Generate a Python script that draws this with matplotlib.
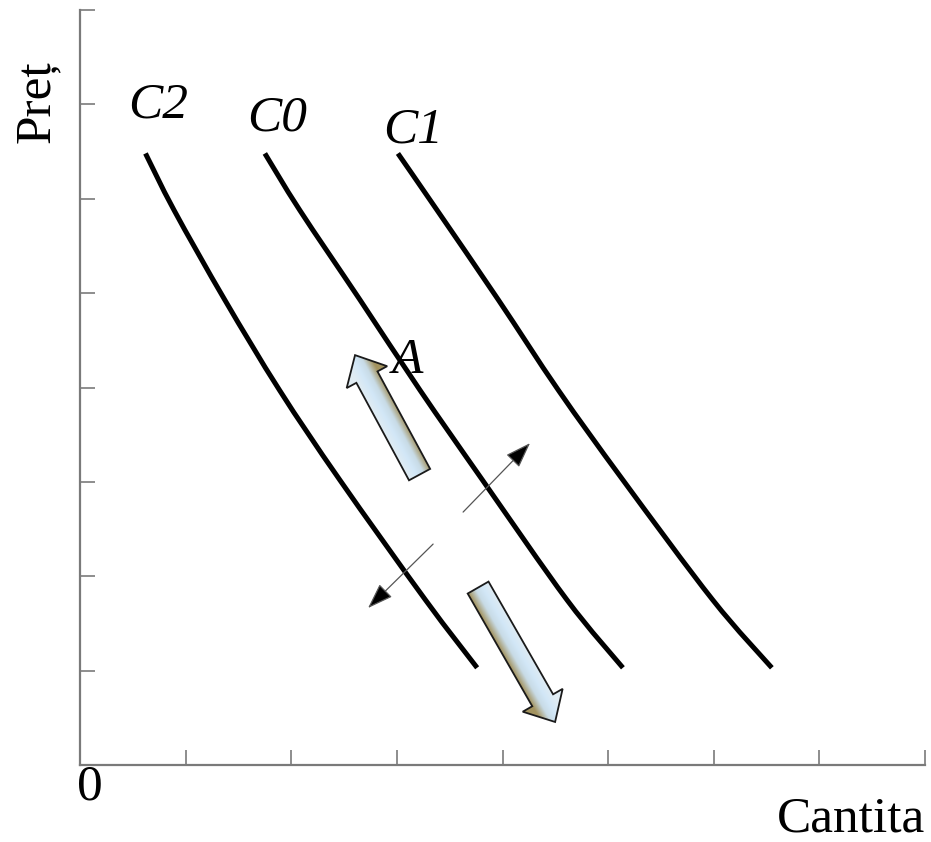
import numpy as np
import matplotlib
matplotlib.use("Agg")
import matplotlib.pyplot as plt
from matplotlib.patches import Polygon, PathPatch
from matplotlib.path import Path
from matplotlib.colors import LinearSegmentedColormap

# ---- data ----
price_levels = [6.48, 5.88, 4.93, 3.97, 3.02, 1.75, 1.03]
qty_C2 = [0.62, 0.89, 1.37, 1.89, 2.46, 3.27, 3.76]
qty_C0 = [1.75, 2.08, 2.65, 3.22, 3.81, 4.61, 5.14]
qty_C1 = [3.01, 3.38, 3.96, 4.53, 5.14, 5.99, 6.55]
curve_names = ["C2", "C0", "C1"]
label_pos = {"C2": (0.455, 6.864), "C0": (1.581, 6.727), "C1": (2.869, 6.600)}
point_A = (2.955, 4.153)
tick_vals = [1, 2, 3, 4, 5, 6, 7, 8]

# movement along the curve (block arrows)
up_arrow = ((3.215, 3.077), (2.604, 4.343))
down_arrow = ((3.769, 1.880), (4.498, 0.456))
# shifts of the curve (thin arrows)
shift_right = ((3.627, 2.680), (4.261, 3.411))
shift_left = ((3.343, 2.341), (2.727, 1.663))

W, H = 931, 842
fig = plt.figure(figsize=(W / 100, H / 100), dpi=100)
ax = fig.add_axes([80 / W, (H - 765) / H, 845 / W, 755 / H])
ax.set_xlim(0, 8)
ax.set_ylim(0, 8)
ax.set_autoscale_on(False)

for s in ["top", "right"]:
    ax.spines[s].set_visible(False)
for s in ["left", "bottom"]:
    ax.spines[s].set_color("#7a7a7a")
    ax.spines[s].set_linewidth(1.6)
ax.set_xticks(tick_vals)
ax.set_yticks(tick_vals)
ax.tick_params(direction="in", length=11, width=1.2, color="#7a7a7a",
               labelbottom=False, labelleft=False)

serif = ["Liberation Serif", "DejaVu Serif"]
fs = 37


def smooth_path(xs, ys):
    """Bezier path through the read points (Catmull-Rom tangents)."""
    P = np.column_stack([xs, ys]).astype(float)
    n = len(P)
    verts = [P[0]]
    codes = [Path.MOVETO]
    for i in range(n - 1):
        p0 = P[i - 1] if i > 0 else P[i]
        p1, p2 = P[i], P[i + 1]
        p3 = P[i + 2] if i + 2 < n else P[i + 1]
        c1 = p1 + (p2 - p0) / 6
        c2 = p2 - (p3 - p1) / 6
        verts += [c1, c2, p2]
        codes += [Path.CURVE4] * 3
    return Path(verts, codes)


for name, q in zip(curve_names, [qty_C2, qty_C0, qty_C1]):
    ax.add_patch(PathPatch(smooth_path(q, price_levels), fc="none", ec="black",
                           lw=3.6, capstyle="butt", zorder=3))
    x, y = label_pos[name]
    ax.text(x, y, name, fontsize=fs, family=serif, style="italic",
            ha="left", va="baseline")

ax.text(point_A[0], point_A[1], "A", fontsize=fs, family=serif, style="italic",
        ha="left", va="baseline", zorder=5)

cmap = LinearSegmentedColormap.from_list(
    "arr", [(0.0, "#e0ecf3"), (0.35, "#d2e7f7"), (0.65, "#c8dbe6"), (1.0, "#a3935f")])


def block_arrow(start, end, shaft_w=24, head_w=46, head_l=25):
    T = ax.transData
    p0 = T.transform(start)
    p1 = T.transform(end)
    d = p1 - p0
    L = np.hypot(*d)
    u = d / L
    n = np.array([u[1], -u[0]])  # right-hand side of travel
    base = p1 - u * head_l
    pts = np.array([p0 + n * shaft_w / 2, base + n * shaft_w / 2, base + n * head_w / 2,
                    p1, base - n * head_w / 2, base - n * shaft_w / 2, p0 - n * shaft_w / 2])
    dpts = T.inverted().transform(pts)
    poly = Polygon(dpts, closed=True, fc="none", ec="#1a1a1a", lw=1.3, zorder=5)
    ax.add_patch(poly)
    x0, y0 = dpts.min(axis=0)
    x1, y1 = dpts.max(axis=0)
    gx, gy = np.meshgrid(np.linspace(x0, x1, 200), np.linspace(y1, y0, 200))
    disp = T.transform(np.c_[gx.ravel(), gy.ravel()])
    s = ((disp - p0) @ n) / (shaft_w / 2)
    s = np.clip((s + 1) / 2, 0, 1).reshape(gx.shape)
    im = ax.imshow(s, extent=[x0, x1, y0, y1], cmap=cmap, vmin=0, vmax=1,
                   aspect="auto", interpolation="bilinear", zorder=4)
    im.set_clip_path(poly)


block_arrow(*up_arrow)
block_arrow(*down_arrow)

for a, b in [shift_right, shift_left]:
    ax.annotate("", xy=b, xytext=a,
                arrowprops=dict(arrowstyle="-|>,head_length=1.0,head_width=0.35",
                                ec="#555555", fc="black", lw=0.9,
                                mutation_scale=16, shrinkA=0, shrinkB=0),
                zorder=4)

ax.set_xlim(0, 8)
ax.set_ylim(0, 8)

fig.text(36.5 / W, 1 - 101.5 / H, "Preț", rotation=90, fontsize=fs, family=serif,
         ha="center", va="center")
fig.text(90 / W, 1 - 787 / H, "0", fontsize=fs, family=serif, ha="center", va="center")
fig.text(925 / W, (H - 832) / H, "Cantita", fontsize=fs, family=serif,
         ha="right", va="baseline")

fig.savefig("out.png", dpi=100)
